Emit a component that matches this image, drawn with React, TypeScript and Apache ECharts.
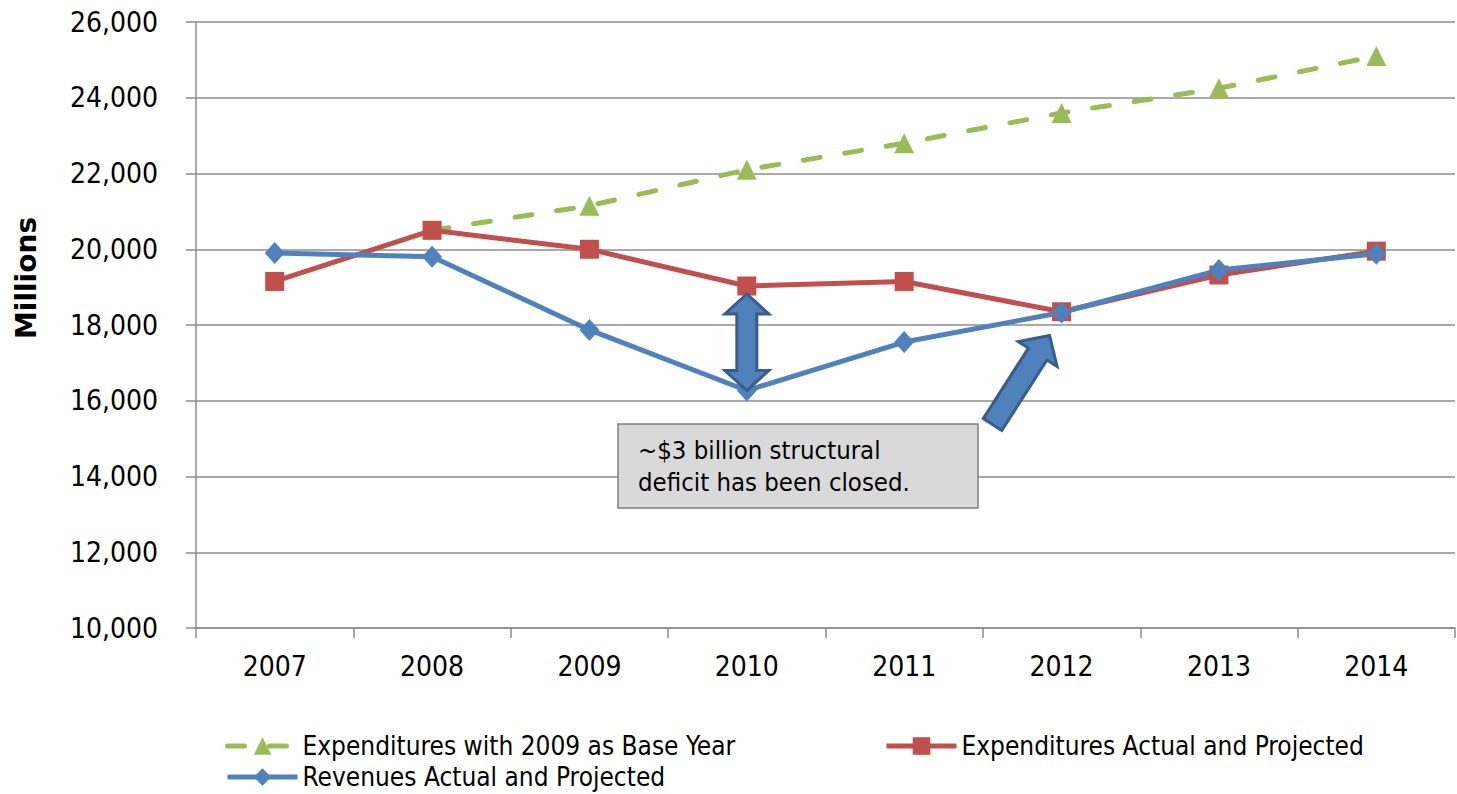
import React, { useEffect, useRef } from "react";
import * as echarts from "echarts";

const years = ["2007", "2008", "2009", "2010", "2011", "2012", "2013", "2014"];
const baseYearExpenditures = [null, 20500, 21150, 22100, 22800, 23600, 24250, 25100];
const actualExpenditures = [19150, 20500, 20000, 19030, 19150, 18350, 19320, 19950];
const revenues = [19900, 19800, 17870, 16270, 17550, 18330, 19450, 19880];
const seriesNames = [
  "Expenditures with 2009 as Base Year",
  "Expenditures Actual and Projected",
  "Revenues Actual and Projected",
];
const yMin = 10000;
const yMax = 26000;
const yInterval = 2000;
const noteLines = ["~$3 billion structural", "deficit has been closed."];

const FONT = "'DejaVu Sans Condensed', 'DejaVu Sans', sans-serif";
const GREEN = "#9bbb59";
const RED = "#c0504d";
const BLUE = "#4f81bd";
const GRID = "#8c8c8c";

function arrowPoints(
  x1: number, y1: number, x2: number, y2: number,
  shaftW: number, headW: number, headL: number, double: boolean
): number[][] {
  const dx = x2 - x1, dy = y2 - y1;
  const len = Math.hypot(dx, dy);
  const ux = dx / len, uy = dy / len;
  const nx = -uy, ny = ux;
  const p = (along: number, side: number) => [x1 + ux * along + nx * side, y1 + uy * along + ny * side];
  const s = shaftW / 2, h = headW / 2;
  if (double) {
    return [
      p(0, 0), p(headL, h), p(headL, s), p(len - headL, s), p(len - headL, h), p(len, 0),
      p(len - headL, -h), p(len - headL, -s), p(headL, -s), p(headL, -h),
    ];
  }
  return [p(0, s), p(len - headL, s), p(len - headL, h), p(len, 0), p(len - headL, -h), p(len - headL, -s), p(0, -s)];
}

export default function App() {
  const ref = useRef<HTMLDivElement>(null);
  useEffect(() => {
    document.body.style.margin = "0";
    if (!ref.current) return;
    const chart = echarts.init(ref.current, undefined, { renderer: "svg" });
    const legendText = { fontFamily: FONT, fontSize: 26, color: "#000" };
    const legendBase = { itemWidth: 70, itemHeight: 22, padding: 0, textStyle: legendText, lineStyle: { width: 5 } };
    chart.setOption({
      animation: false,
      backgroundColor: "#fff",
      grid: { left: 196, right: 2, top: 22, bottom: 166 },
      legend: [
        { ...legendBase, data: [seriesNames[0]], left: 225, top: 733 },
        { ...legendBase, data: [seriesNames[1]], left: 884, top: 733 },
        { ...legendBase, data: [seriesNames[2]], left: 225, top: 764 },
      ],
      xAxis: {
        type: "category",
        data: years,
        boundaryGap: true,
        axisLine: { lineStyle: { color: GRID, width: 1.5 } },
        axisTick: { show: true, length: 10, lineStyle: { color: GRID, width: 1.5 } },
        axisLabel: { fontFamily: FONT, fontSize: 28, color: "#000", margin: 24 },
      },
      yAxis: {
        type: "value",
        min: yMin,
        max: yMax,
        interval: yInterval,
        axisLine: { show: true, lineStyle: { color: GRID, width: 1.5 } },
        axisTick: { show: true, length: 10, lineStyle: { color: GRID, width: 1.5 } },
        splitLine: { lineStyle: { color: GRID, width: 1.5 } },
        axisLabel: {
          fontFamily: FONT, fontSize: 28, color: "#000", margin: 38,
          formatter: (v: number) => v.toLocaleString("en-US"),
        },
      },
      series: [
        {
          name: seriesNames[0],
          type: "line",
          data: baseYearExpenditures.map((v, i) => (i === 1 ? { value: v, symbol: "none" } : v)),
          symbol: "triangle",
          symbolSize: 20,
          itemStyle: { color: GREEN },
          lineStyle: { color: GREEN, width: 5, type: [17, 25], cap: "round" },
        },
        {
          name: seriesNames[1],
          type: "line",
          data: actualExpenditures,
          symbol: "rect",
          symbolSize: 19,
          itemStyle: { color: RED },
          lineStyle: { color: RED, width: 5 },
        },
        {
          name: seriesNames[2],
          type: "line",
          data: revenues,
          symbol: "diamond",
          symbolSize: [20, 22],
          itemStyle: { color: BLUE },
          lineStyle: { color: BLUE, width: 5 },
        },
      ],
    });

    const top = chart.convertToPixel({ xAxisIndex: 0, yAxisIndex: 0 }, [3, actualExpenditures[3]]);
    const bot = chart.convertToPixel({ xAxisIndex: 0, yAxisIndex: 0 }, [3, revenues[3]]);
    const p12 = chart.convertToPixel({ xAxisIndex: 0, yAxisIndex: 0 }, [5, revenues[5]]);
    const arrowStyle = { fill: BLUE, stroke: "#385d8a", lineWidth: 3, lineJoin: "miter" };

    chart.setOption({
      graphic: [
        {
          type: "text",
          x: 26,
          y: 278,
          rotation: Math.PI / 2,
          style: {
            text: "Millions", fontFamily: "'DejaVu Sans', sans-serif", fontWeight: "bold",
            fontSize: 28, fill: "#000", align: "center", verticalAlign: "middle",
          },
        },
        {
          type: "polygon",
          z: 100,
          shape: { points: arrowPoints(top[0], top[1] + 8, bot[0], bot[1], 20, 44, 20, true) },
          style: arrowStyle,
        },
        {
          type: "polygon",
          z: 100,
          shape: { points: arrowPoints(p12[0] - 69, p12[1] + 112, p12[0] - 12, p12[1] + 23, 22, 46, 22, false) },
          style: arrowStyle,
        },
        {
          type: "rect",
          z: 100,
          shape: { x: 618, y: 424, width: 360, height: 84 },
          style: { fill: "#d9d9d9", stroke: "#7f7f7f", lineWidth: 1.5 },
        },
        {
          type: "text",
          z: 101,
          x: 638,
          y: 466,
          style: {
            text: noteLines.join("\n"), fontFamily: FONT, fontSize: 25.5, lineHeight: 32,
            fill: "#000", align: "left", verticalAlign: "middle",
          },
        },
      ],
    });
    return () => chart.dispose();
  }, []);
  return <div ref={ref} style={{ position: "fixed", left: 0, top: 0, width: 1457, height: 794 }} />;
}
